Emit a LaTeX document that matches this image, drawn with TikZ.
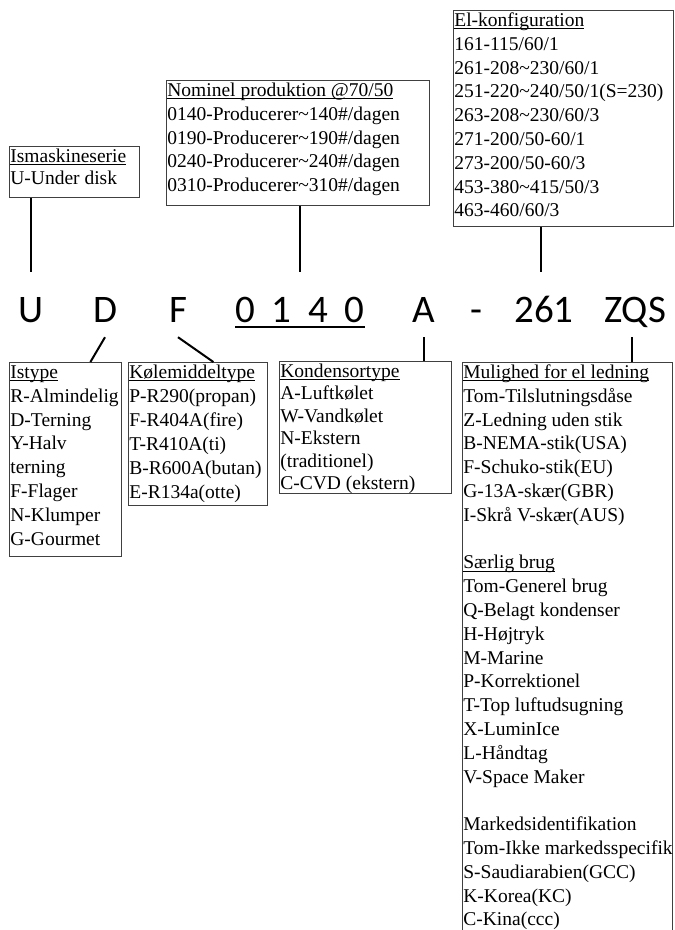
\documentclass[tikz,border=0pt]{standalone}
\usepackage{fontspec}
\setmainfont{Liberation Serif}
\newfontfamily\codefont{Carlito}
\usetikzlibrary{calc}
\newcommand\hd[1]{\leavevmode\setbox0=\hbox{#1}\rlap{\rule[-2.6pt]{\wd0}{0.7pt}}\box0}
\newcommand\bx[4][23.8]{\parbox[t][#3][t]{#2}{\fontsize{19.5}{#1}\selectfont\raggedright\rule{0pt}{15pt}#4}}
\newcommand\tl{\textasciitilde}
\tikzset{
  box/.style={draw=black!75, line width=0.8pt, anchor=north west, inner sep=1pt},
  code/.style={font=\codefont\fontsize{39}{39}\selectfont, anchor=base, text height=35pt, text depth=0pt, inner ysep=15pt, inner xsep=0pt},
  link/.style={line width=2pt},
}
\begin{document}
\begin{tikzpicture}[x=1pt,y=-1pt]
\useasboundingbox (0,0) rectangle (675,930);
\clip (0,0) rectangle (675,930);
\fill[white] (0,0) rectangle (675,930);

% code letters
\node[code] (U) at (31,322) {U};
\node[code] (D) at (105,322) {D};
\node[code] (F) at (178,322) {F};
\node[code] (num) at (300,322) {0\hspace{16.7pt}1\hspace{16.7pt}4\hspace{16.7pt}0};
\node[code] (A) at (424,322) {A};
\node[code] (dash) at (476,322) {-};
\node[code] (v) at (544,322) {261};
\node[code] (Z) at (635,322) {ZQS};
\draw[line width=1.5pt] ([yshift=-5pt]num.base west) -- ([yshift=-5pt]num.base east);

% upper boxes
\node[box] (ism) at (9,146) {\bx[22]{128pt}{49pt}{\hd{Ismaskineserie}\\U-Under disk}};
\node[box] (nom) at (166,80) {\bx{261pt}{123pt}{\hd{Nominel produktion @70/50}\\
0140-Producerer\tl 140\#/dagen\\
0190-Producerer\tl 190\#/dagen\\
0240-Producerer\tl 240\#/dagen\\
0310-Producerer\tl 310\#/dagen}};
\node[box] (el) at (453,10) {\bx{218pt}{214pt}{\hd{El-konfiguration}\\
161-115/60/1\\
261-208\tl 230/60/1\\
251-220\tl 240/50/1(S=230)\\
263-208\tl 230/60/3\\
271-200/50-60/1\\
273-200/50-60/3\\
453-380\tl 415/50/3\\
463-460/60/3}};

% lower boxes
\node[box] (ist) at (9,362) {\bx{110pt}{192pt}{\hd{Istype}\\
R-Almindelig\\
D-Terning\\
Y-Halv\\
terning\\
F-Flager\\
N-Klumper\\
G-Gourmet}};
\node[box] (kol) at (128,362) {\bx[24]{137pt}{141pt}{\hd{Kølemiddeltype}\\
P-R290(propan)\\
F-R404A(fire)\\
T-R410A(ti)\\
B-R600A(butan)\\
E-R134a(otte)}};
\node[box] (kon) at (279,361) {\bx[22.5]{170pt}{130pt}{\hd{Kondensortype}\\
A-Luftkølet\\
W-Vandkølet\\
N-Ekstern\\
(traditionel)\\
C-CVD (ekstern)}};
\node[box] (mul) at (462,362) {\bx{208pt}{590pt}{\hd{Mulighed for el ledning}\\
Tom-Tilslutningsdåse\\
Z-Ledning uden stik\\
B-NEMA-stik(USA)\\
F-Schuko-stik(EU)\\
G-13A-skær(GBR)\\
I-Skrå V-skær(AUS)\\
\mbox{}\\
\hd{Særlig brug}\\
Tom-Generel brug\\
Q-Belagt kondenser\\
H-Højtryk\\
M-Marine\\
P-Korrektionel\\
T-Top luftudsugning\\
X-LuminIce\\
L-Håndtag\\
V-Space Maker\\
\mbox{}\\
Markedsidentifikation\\
\mbox{Tom-Ikke markedsspecifik}\\
S-Saudiarabien(GCC)\\
K-Korea(KC)\\
C-Kina(ccc)}};

% connectors
\draw[link] (U.north |- ism.south) -- (U.north);
\draw[link] (num.north |- nom.south) -- (num.north);
\draw[link] ([xshift=-3pt]v.north |- el.south) -- ([xshift=-3pt]v.north);
\draw[link] (D.south) -- ([xshift=25pt]ist.north);
\draw[link] (F.south) -- ([xshift=15.5pt]kol.north);
\draw[link] (A.south) -- (A.south |- kon.north);
\draw[link] ([xshift=-3pt]Z.south) -- ([xshift=-3pt]Z.south |- mul.north);
\end{tikzpicture}
\end{document}
